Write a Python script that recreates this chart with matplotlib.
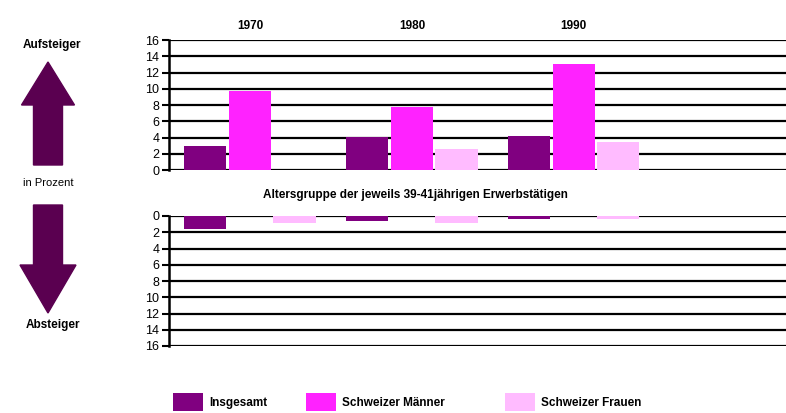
import matplotlib.pyplot as plt
from matplotlib.patches import Patch, FancyArrow
import numpy as np

years = ["1970", "1980", "1990"]
series = ["Insgesamt", "Schweizer Männer", "Schweizer Frauen"]
colors = ["#800080", "#FF22FF", "#FFBBFF"]

# Aufsteiger (upward mobility), in percent
up_insg = [3.0, 4.1, 4.2]
up_men = [9.7, 7.7, 13.1]
up_women = [0.0, 2.6, 3.5]

# Absteiger (downward mobility), in percent
down_insg = [1.6, 0.6, 0.35]
down_men = [0.0, 0.0, 0.0]
down_women = [0.9, 0.9, 0.4]

yticks = list(range(0, 17, 2))

plt.rcParams['font.family'] = ['Liberation Sans', 'DejaVu Sans']

fig = plt.figure(figsize=(7.86, 4.13), dpi=100)

x = np.arange(len(years))
step = 0.275
width = 0.26


def style(ax):
    for s in ["top", "right", "bottom"]:
        ax.spines[s].set_visible(False)
    ax.spines["left"].set_linewidth(1.8)
    ax.set_xlim(-0.5, 3.31)
    ax.set_xticks([])
    ax.set_yticks(yticks)
    ax.tick_params(axis="y", length=5, width=1.5, labelsize=9, pad=2)
    ax.yaxis.grid(True, color="black", linewidth=1.6)
    ax.set_axisbelow(True)


ax1 = fig.add_axes([169 / 786, 1 - 170 / 413, 1 - 169 / 786, 130 / 413])
for i, vals in enumerate([up_insg, up_men, up_women]):
    ax1.bar(x + (i - 1) * step, vals, width, color=colors[i], linewidth=0)
ax1.set_ylim(0, 16)
style(ax1)
for xi, yr in zip(x, years):
    ax1.text(xi, 1.11, yr, transform=ax1.get_xaxis_transform(), ha="center", va="center",
             fontsize=8.5, fontweight="bold")

ax2 = fig.add_axes([169 / 786, 1 - 346 / 413, 1 - 169 / 786, 130 / 413])
for i, vals in enumerate([down_insg, down_men, down_women]):
    ax2.bar(x + (i - 1) * step, vals, width, color=colors[i], linewidth=0)
ax2.set_ylim(16, 0)
style(ax2)
fig.text(415 / 786, 1 - 195 / 413, "Altersgruppe der jeweils 39-41jährigen Erwerbstätigen",
         ha="center", va="center", fontsize=8.5, fontweight="bold")

# left panel with arrows
axl = fig.add_axes([0, 0, 169 / 786, 1])
axl.set_xlim(0, 169)
axl.set_ylim(413, 0)
axl.axis("off")
arrow_color = "#5A0050"
axl.add_patch(FancyArrow(48, 165, 0, -103, width=29, head_width=53, head_length=43,
                         length_includes_head=True, color=arrow_color))
axl.add_patch(FancyArrow(48, 205, 0, 108, width=29, head_width=56, head_length=48,
                         length_includes_head=True, color=arrow_color))
axl.text(52, 45, "Aufsteiger", ha="center", va="center", fontsize=8.5, fontweight="bold")
axl.text(48, 183, "in Prozent", ha="center", va="center", fontsize=8)
axl.text(53, 325, "Absteiger", ha="center", va="center", fontsize=8.5, fontweight="bold")

# legend, one entry at a time
leg_x = [162, 295, 494]
for i in range(3):
    fig.legend(handles=[Patch(facecolor=colors[i])], labels=[series[i]],
               loc="center left", bbox_to_anchor=(leg_x[i] / 786, 1 - 402 / 413),
               frameon=False, handlelength=2.6, handleheight=1.9, handletextpad=0.5,
               prop={"size": 8.5, "weight": "bold"})

fig.savefig("out.png", dpi=100)
